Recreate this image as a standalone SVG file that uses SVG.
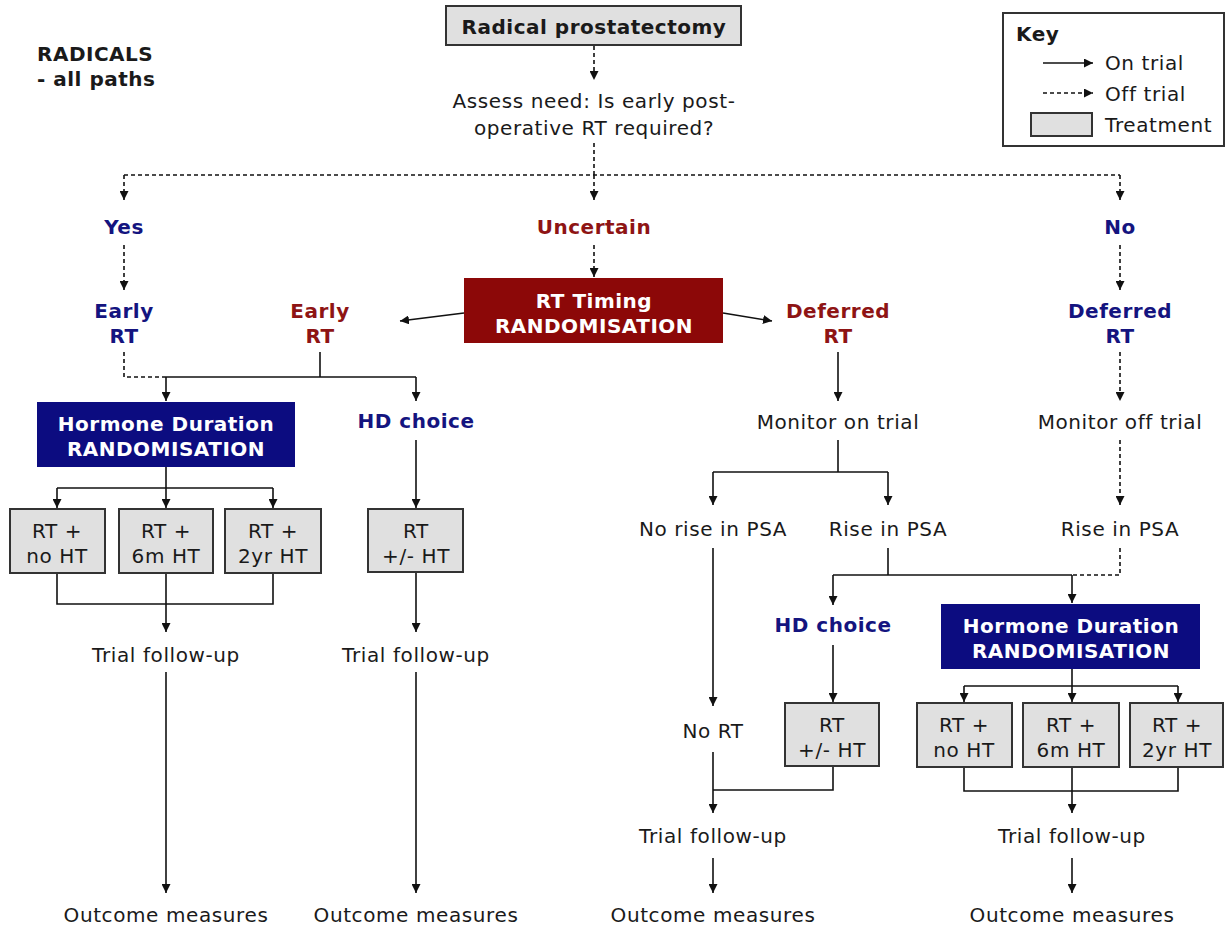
<svg xmlns="http://www.w3.org/2000/svg" width="1225" height="928" viewBox="0 0 1225 928">
  <style>
    text { font-family: "DejaVu Sans", Verdana, sans-serif; font-size: 20px; letter-spacing: 0.6px; fill: #1a1a1a; text-anchor: middle; }
    .b { font-weight: bold; letter-spacing: 0.5px; }
    .blue { fill: #14147f; font-weight: bold; letter-spacing: 0.5px; }
    .red { fill: #8e1414; font-weight: bold; letter-spacing: 0.5px; }
    .white { fill: #ffffff; font-weight: bold; letter-spacing: 0.5px; }
    .treat { fill: #e0e0e0; stroke: #333333; stroke-width: 2; }
    .bluebox { fill: #0c0c80; }
    .redbox { fill: #8c0808; }
    .c { fill: none; stroke: #111111; stroke-width: 1.6; }
    .d { fill: none; stroke: #111111; stroke-width: 1.6; stroke-dasharray: 4 3; }
    .arr { marker-end: url(#ah); }
  </style>
  <defs>
    <marker id="ah" viewBox="0 0 10 10" refX="10" refY="5" markerWidth="9" markerHeight="9" markerUnits="userSpaceOnUse" orient="auto">
      <path d="M0,0 L10,5 L0,10 z" fill="#111111"/>
    </marker>
  </defs>

  <!-- title -->
  <g id="title">
    <text class="b" x="37" y="61" style="text-anchor:start">RADICALS</text>
    <text class="b" x="37" y="86" style="text-anchor:start">- all paths</text>
  </g>

  <!-- legend -->
  <g id="key">
    <rect x="1003" y="13" width="221" height="133" fill="#ffffff" stroke="#333333" stroke-width="2"/>
    <text class="b" x="1016" y="41" style="text-anchor:start">Key</text>
    <line class="c arr" x1="1043" y1="63" x2="1093" y2="63"/>
    <text x="1105" y="70" style="text-anchor:start">On trial</text>
    <line class="d arr" x1="1043" y1="93" x2="1093" y2="93"/>
    <text x="1105" y="101" style="text-anchor:start">Off trial</text>
    <rect class="treat" x="1031" y="113" width="61" height="23"/>
    <text x="1105" y="132" style="text-anchor:start">Treatment</text>
  </g>

  <!-- connectors -->
  <g id="connectors">
    <line class="d arr" x1="594" y1="46" x2="594" y2="80"/>
    <polyline class="d" points="594,143 594,175"/>
    <line class="d" x1="124" y1="175" x2="1120" y2="175"/>
    <line class="d arr" x1="124" y1="175" x2="124" y2="200"/>
    <line class="d arr" x1="594" y1="175" x2="594" y2="200"/>
    <line class="d arr" x1="1120" y1="175" x2="1120" y2="200"/>
    <line class="d arr" x1="124" y1="245" x2="124" y2="290"/>
    <line class="d arr" x1="594" y1="245" x2="594" y2="277"/>
    <line class="d arr" x1="1120" y1="245" x2="1120" y2="290"/>
    <line class="c arr" x1="464" y1="313" x2="400" y2="321"/>
    <line class="c arr" x1="723" y1="313" x2="772" y2="321"/>

    <!-- early RT to hormone duration / HD choice -->
    <polyline class="d" points="124,352 124,377 166,377"/>
    <line class="c" x1="166" y1="377" x2="416" y2="377"/>
    <line class="c" x1="320" y1="352" x2="320" y2="377"/>
    <line class="c arr" x1="166" y1="377" x2="166" y2="401"/>
    <line class="c arr" x1="416" y1="377" x2="416" y2="401"/>
    <line class="c" x1="166" y1="467" x2="166" y2="488"/>
    <line class="c" x1="57" y1="488" x2="273" y2="488"/>
    <line class="c arr" x1="57" y1="488" x2="57" y2="508"/>
    <line class="c arr" x1="166" y1="488" x2="166" y2="508"/>
    <line class="c arr" x1="273" y1="488" x2="273" y2="508"/>
    <polyline class="c" points="57,573 57,604 273,604 273,573"/>
    <line class="c arr" x1="166" y1="573" x2="166" y2="632"/>
    <line class="c arr" x1="416" y1="440" x2="416" y2="508"/>
    <line class="c arr" x1="416" y1="572" x2="416" y2="632"/>
    <line class="c arr" x1="166" y1="672" x2="166" y2="893"/>
    <line class="c arr" x1="416" y1="672" x2="416" y2="893"/>

    <!-- deferred RT -->
    <line class="c arr" x1="838" y1="352" x2="838" y2="401"/>
    <line class="c" x1="838" y1="440" x2="838" y2="472"/>
    <line class="c" x1="713" y1="472" x2="888" y2="472"/>
    <line class="c arr" x1="713" y1="472" x2="713" y2="505"/>
    <line class="c arr" x1="888" y1="472" x2="888" y2="505"/>
    <line class="d arr" x1="1120" y1="352" x2="1120" y2="401"/>
    <line class="d arr" x1="1120" y1="440" x2="1120" y2="505"/>
    <polyline class="d" points="1120,548 1120,575 1072,575"/>
    <line class="c" x1="888" y1="548" x2="888" y2="575"/>
    <line class="c" x1="833" y1="575" x2="1072" y2="575"/>
    <line class="c arr" x1="833" y1="575" x2="833" y2="605"/>
    <line class="c arr" x1="1072" y1="575" x2="1072" y2="603"/>
    <line class="c arr" x1="833" y1="645" x2="833" y2="702"/>
    <line class="c arr" x1="713" y1="548" x2="713" y2="706"/>
    <line class="c arr" x1="713" y1="752" x2="713" y2="813"/>
    <polyline class="c" points="833,766 833,790 713,790"/>
    <line class="c" x1="1072" y1="669" x2="1072" y2="686"/>
    <line class="c" x1="964" y1="686" x2="1178" y2="686"/>
    <line class="c arr" x1="964" y1="686" x2="964" y2="702"/>
    <line class="c arr" x1="1072" y1="686" x2="1072" y2="702"/>
    <line class="c arr" x1="1178" y1="686" x2="1178" y2="702"/>
    <polyline class="c" points="964,767 964,791 1178,791 1178,767"/>
    <line class="c arr" x1="1072" y1="767" x2="1072" y2="813"/>
    <line class="c arr" x1="713" y1="858" x2="713" y2="893"/>
    <line class="c arr" x1="1072" y1="858" x2="1072" y2="893"/>
  </g>

  <!-- top of pathway -->
  <g id="prostatectomy">
    <rect class="treat" x="446" y="6" width="295" height="39"/>
    <text class="b" x="594" y="34">Radical prostatectomy</text>
  </g>
  <g id="assess">
    <text x="594" y="108">Assess need: Is early post-</text>
    <text x="594" y="135">operative RT required?</text>
  </g>
  <g id="yes"><text class="blue" x="124" y="234">Yes</text></g>
  <g id="uncertain"><text class="red" x="594" y="234">Uncertain</text></g>
  <g id="no"><text class="blue" x="1120" y="234">No</text></g>

  <g id="rt-timing">
    <rect class="redbox" x="464" y="278" width="259" height="65"/>
    <text class="white" x="594" y="308">RT Timing</text>
    <text class="white" x="594" y="333">RANDOMISATION</text>
  </g>
  <g id="early-rt-off"><text class="blue" x="124" y="318">Early</text><text class="blue" x="124" y="343">RT</text></g>
  <g id="early-rt-on"><text class="red" x="320" y="318">Early</text><text class="red" x="320" y="343">RT</text></g>
  <g id="deferred-rt-on"><text class="red" x="838" y="318">Deferred</text><text class="red" x="838" y="343">RT</text></g>
  <g id="deferred-rt-off"><text class="blue" x="1120" y="318">Deferred</text><text class="blue" x="1120" y="343">RT</text></g>

  <!-- early RT branch -->
  <g id="hd-rand-early">
    <rect class="bluebox" x="37" y="402" width="258" height="65"/>
    <text class="white" x="166" y="431">Hormone Duration</text>
    <text class="white" x="166" y="456">RANDOMISATION</text>
  </g>
  <g id="hd-choice-early"><text class="blue" x="416" y="428">HD choice</text></g>
  <g id="early-no-ht">
    <rect class="treat" x="10" y="509" width="95" height="64"/>
    <text x="57" y="538">RT +</text><text x="57" y="563">no HT</text>
  </g>
  <g id="early-6m-ht">
    <rect class="treat" x="119" y="509" width="94" height="64"/>
    <text x="166" y="538">RT +</text><text x="166" y="563">6m HT</text>
  </g>
  <g id="early-2yr-ht">
    <rect class="treat" x="225" y="509" width="96" height="64"/>
    <text x="273" y="538">RT +</text><text x="273" y="563">2yr HT</text>
  </g>
  <g id="early-choice-ht">
    <rect class="treat" x="368" y="509" width="95" height="63"/>
    <text x="416" y="538">RT</text><text x="416" y="563">+/- HT</text>
  </g>
  <g id="followup-1"><text x="166" y="662">Trial follow-up</text></g>
  <g id="followup-2"><text x="416" y="662">Trial follow-up</text></g>
  <g id="outcome-1"><text x="166" y="922">Outcome measures</text></g>
  <g id="outcome-2"><text x="416" y="922">Outcome measures</text></g>

  <!-- deferred RT branch -->
  <g id="monitor-on"><text x="838" y="429">Monitor on trial</text></g>
  <g id="monitor-off"><text x="1120" y="429">Monitor off trial</text></g>
  <g id="no-rise"><text x="713" y="536">No rise in PSA</text></g>
  <g id="rise-on"><text x="888" y="536">Rise in PSA</text></g>
  <g id="rise-off"><text x="1120" y="536">Rise in PSA</text></g>
  <g id="hd-choice-deferred"><text class="blue" x="833" y="632">HD choice</text></g>
  <g id="hd-rand-deferred">
    <rect class="bluebox" x="941" y="604" width="259" height="65"/>
    <text class="white" x="1071" y="633">Hormone Duration</text>
    <text class="white" x="1071" y="658">RANDOMISATION</text>
  </g>
  <g id="no-rt"><text x="713" y="738">No RT</text></g>
  <g id="deferred-choice-ht">
    <rect class="treat" x="785" y="703" width="94" height="63"/>
    <text x="832" y="732">RT</text><text x="832" y="757">+/- HT</text>
  </g>
  <g id="deferred-no-ht">
    <rect class="treat" x="917" y="703" width="95" height="64"/>
    <text x="964" y="732">RT +</text><text x="964" y="757">no HT</text>
  </g>
  <g id="deferred-6m-ht">
    <rect class="treat" x="1023" y="703" width="96" height="64"/>
    <text x="1071" y="732">RT +</text><text x="1071" y="757">6m HT</text>
  </g>
  <g id="deferred-2yr-ht">
    <rect class="treat" x="1130" y="703" width="93" height="64"/>
    <text x="1177" y="732">RT +</text><text x="1177" y="757">2yr HT</text>
  </g>
  <g id="followup-3"><text x="713" y="843">Trial follow-up</text></g>
  <g id="followup-4"><text x="1072" y="843">Trial follow-up</text></g>
  <g id="outcome-3"><text x="713" y="922">Outcome measures</text></g>
  <g id="outcome-4"><text x="1072" y="922">Outcome measures</text></g>
</svg>
